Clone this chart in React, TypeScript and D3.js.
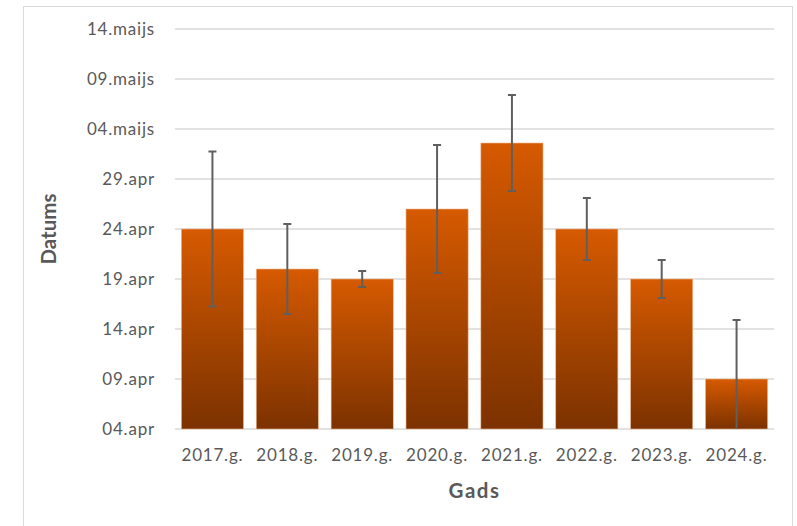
import { useMemo } from "react";
import * as d3 from "d3";

// vidējais datums, izteikts kā aprīļa diena (32.6 = 2.6. maijs)
const years = ["2017.g.", "2018.g.", "2019.g.", "2020.g.", "2021.g.", "2022.g.", "2023.g.", "2024.g."];
const meanDay = [24, 20, 19, 26, 32.6, 24, 19, 9];
const errorDays = [7.75, 4.5, 0.8, 6.4, 4.8, 3.1, 1.9, 5.9];

const tickDays = [4, 9, 14, 19, 24, 29, 34, 39, 44];
const tickLabels = ["04.apr", "09.apr", "14.apr", "19.apr", "24.apr", "29.apr", "04.maijs", "09.maijs", "14.maijs"];

const width = 797;
const height = 526;
const margin = { top: 29, right: 23, bottom: 97, left: 175 };

export default function App() {
  const x = useMemo(
    () =>
      d3
        .scaleBand<string>()
        .domain(years)
        .range([margin.left, width - margin.right])
        .paddingInner(0.17)
        .paddingOuter(0.085),
    []
  );
  const y = useMemo(
    () =>
      d3
        .scaleLinear()
        .domain([4, 44])
        .range([height - margin.bottom, margin.top]),
    []
  );

  const bottom = y(4);
  const textColor = "#595959";
  const font = "Lato, 'Open Sans', sans-serif";

  return (
    <svg
      width={width}
      height={height}
      viewBox={`0 0 ${width} ${height}`}
      style={{ position: "absolute", left: 0, top: 0, background: "#fff" }}
    >
      <defs>
        <linearGradient id="barFill" x1="0" y1="0" x2="0" y2="1">
          <stop offset="0" stopColor="#d65a00" />
          <stop offset="1" stopColor="#7c3200" />
        </linearGradient>
        <clipPath id="plotClip">
          <rect x={margin.left} y={0} width={width - margin.left - margin.right} height={bottom} />
        </clipPath>
      </defs>

      {/* rāmis */}
      <rect x={23.5} y={6.5} width={769} height={540} fill="none" stroke="#d9d9d9" strokeWidth={1} />

      {/* režģis */}
      {tickDays.map((d, i) => (
        <g key={i}>
          <line
            x1={margin.left}
            x2={width - margin.right}
            y1={y(d)}
            y2={y(d)}
            stroke="#d9d9d9"
            strokeWidth={1.5}
          />
          <text
            x={155}
            y={y(d) + 6}
            textAnchor="end"
            fontFamily={font}
            fontSize={17}
            letterSpacing={0.8}
            fill={textColor}
          >
            {tickLabels[i]}
          </text>
        </g>
      ))}

      {/* stabiņi */}
      {years.map((yr, i) => {
        const x0 = x(yr) ?? 0;
        return (
          <rect
            key={yr}
            x={x0}
            y={y(meanDay[i])}
            width={x.bandwidth()}
            height={bottom - y(meanDay[i])}
            fill="url(#barFill)"
            stroke="#f0b890"
            strokeWidth={0.6}
          />
        );
      })}

      {/* kļūdu joslas */}
      <g clipPath="url(#plotClip)" stroke="#5f5f5f" strokeWidth={2}>
        {years.map((yr, i) => {
          const cx = (x(yr) ?? 0) + x.bandwidth() / 2;
          const top = y(meanDay[i] + errorDays[i]);
          const low = y(meanDay[i] - errorDays[i]);
          return (
            <g key={yr}>
              <line x1={cx} x2={cx} y1={top} y2={low} />
              <line x1={cx - 4} x2={cx + 4} y1={top} y2={top} />
              <line x1={cx - 4} x2={cx + 4} y1={low} y2={low} />
            </g>
          );
        })}
      </g>

      {/* x ass nosaukumi */}
      {years.map((yr) => (
        <text
          key={yr}
          x={(x(yr) ?? 0) + x.bandwidth() / 2}
          y={bottom + 32}
          textAnchor="middle"
          fontFamily={font}
          fontSize={17}
          letterSpacing={0.8}
          fill={textColor}
        >
          {yr}
        </text>
      ))}

      <text
        x={(margin.left + width - margin.right) / 2}
        y={498}
        textAnchor="middle"
        fontFamily={font}
        fontSize={20.5}
        fontWeight="bold"
        letterSpacing={1.5}
        fill={textColor}
      >
        Gads
      </text>
      <text
        transform={`translate(56, 229) rotate(-90)`}
        textAnchor="middle"
        fontFamily={font}
        fontSize={20.5}
        fontWeight="bold"
        fill={textColor}
      >
        Datums
      </text>
    </svg>
  );
}
